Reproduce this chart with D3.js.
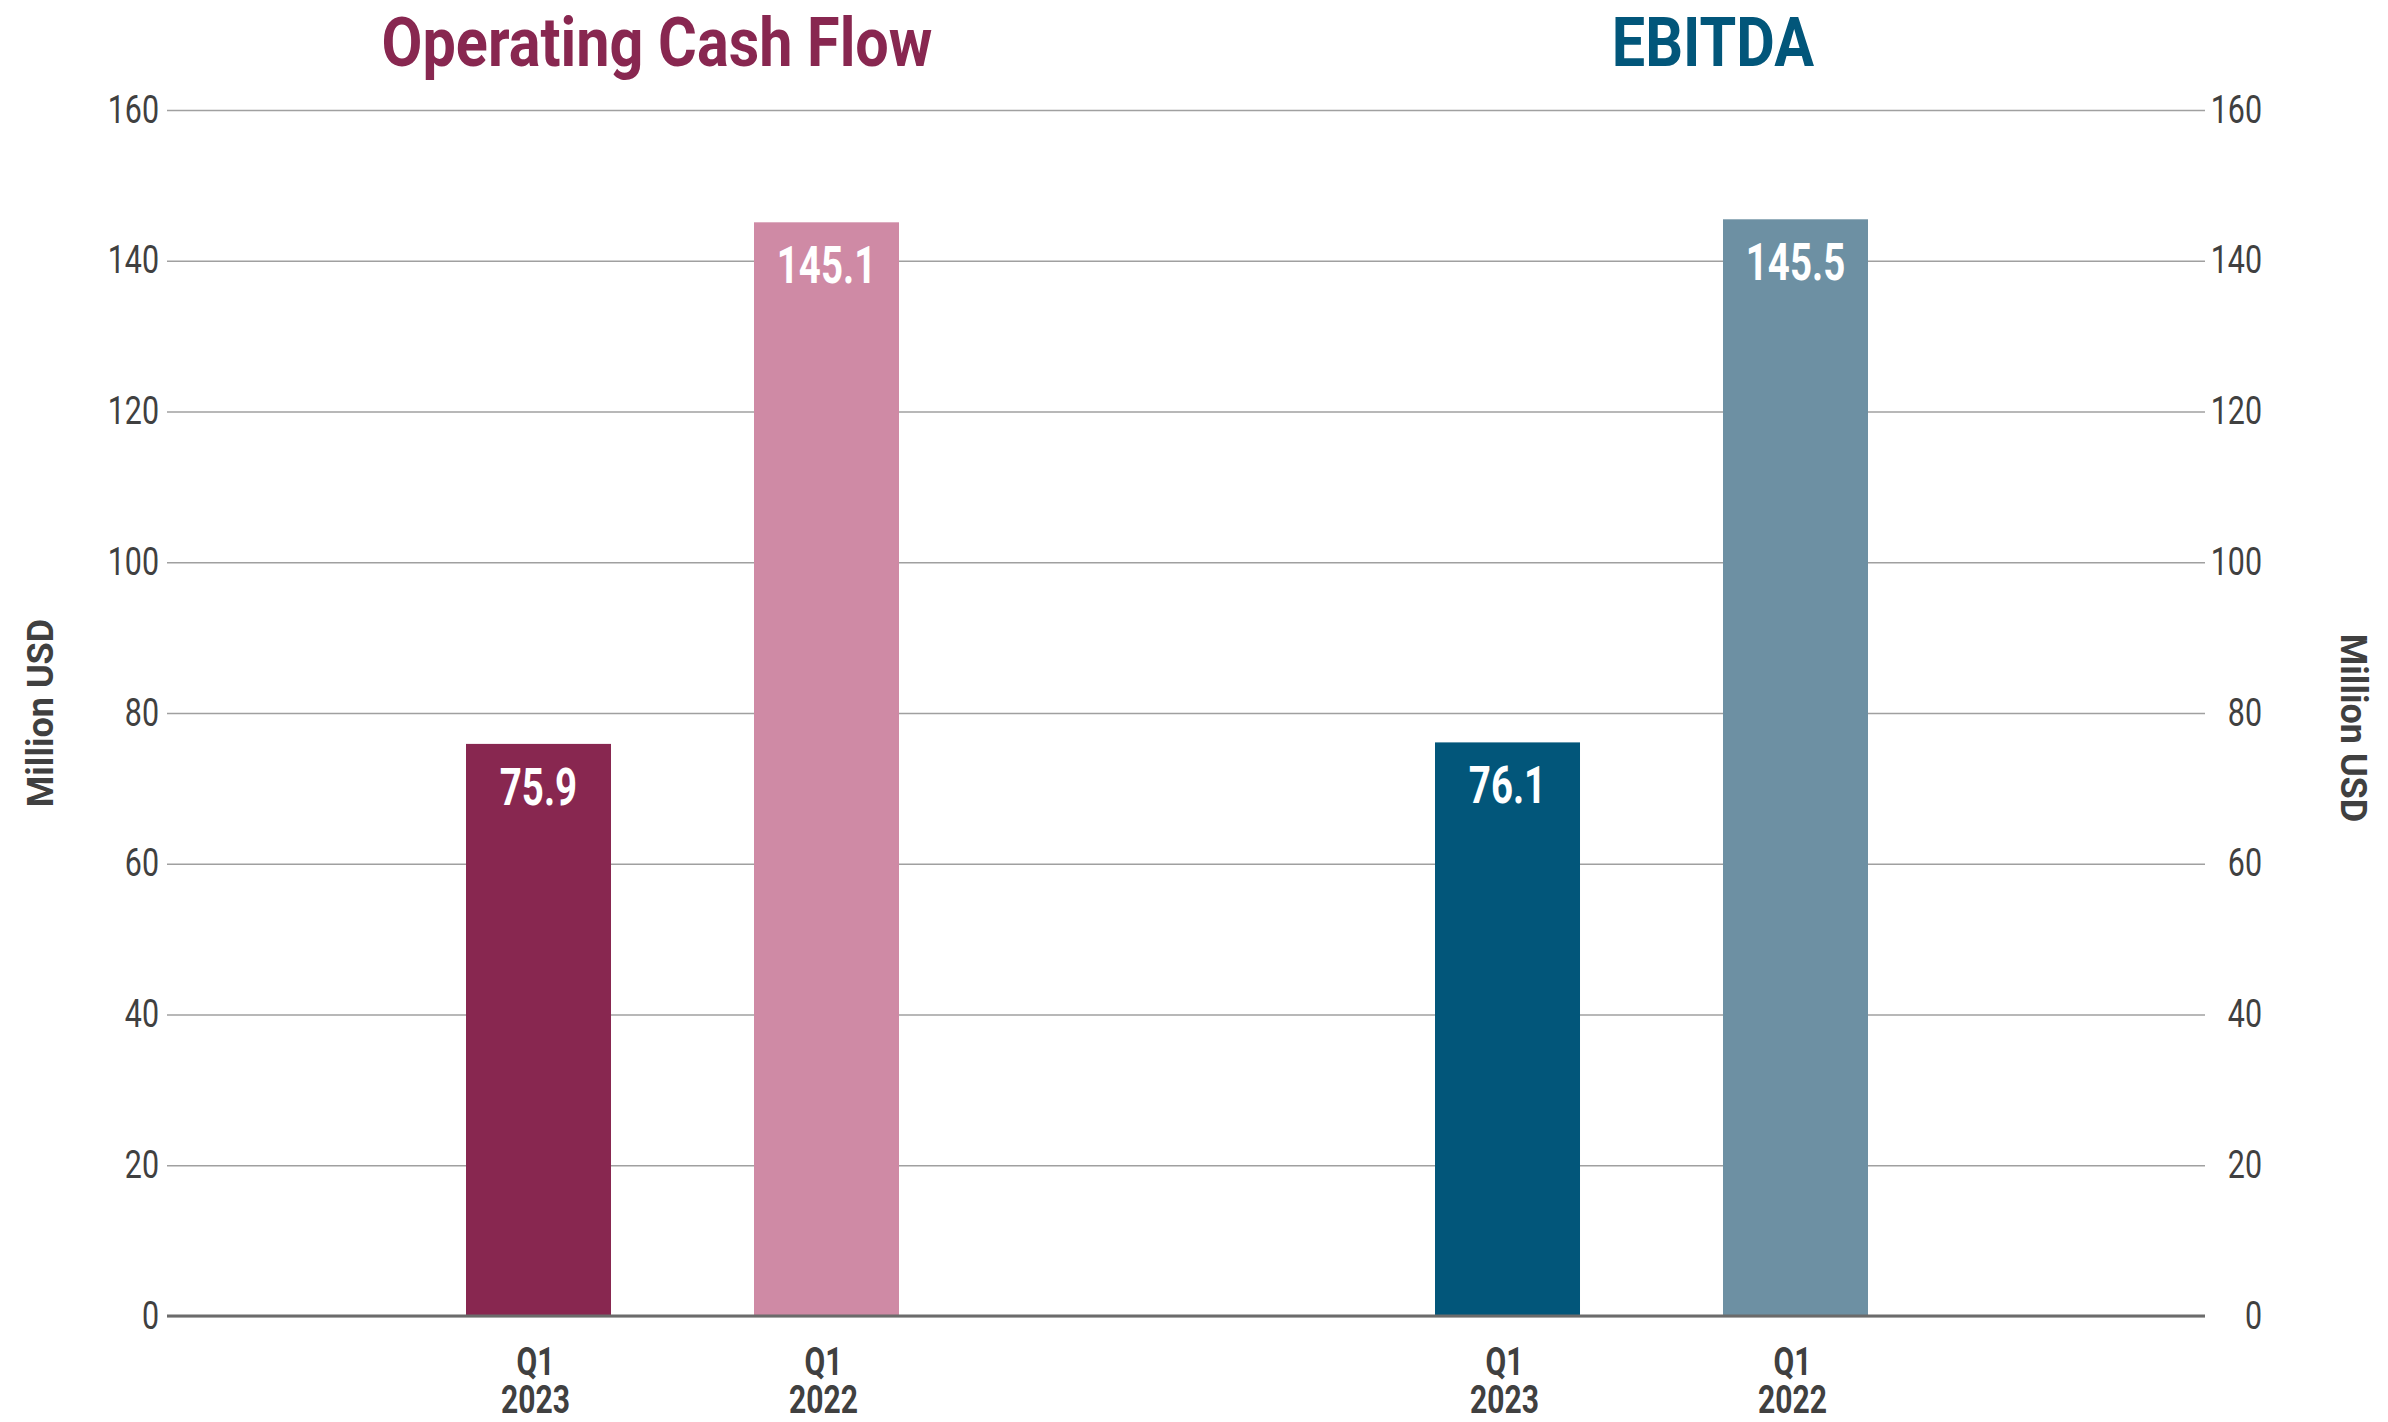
<!DOCTYPE html>
<html>
<head>
<meta charset="utf-8">
<script src="https://cdn.jsdelivr.net/npm/d3@7"></script>
<style>
  body { margin: 0; background: #fff; }
  text { font-family: Roboto, "Liberation Sans", sans-serif; }
</style>
</head>
<body>
<svg id="chart" width="2388" height="1422"></svg>
<script>
var categories = ['Q1 2023', 'Q1 2022'];
var panelTitles = ['Operating Cash Flow', 'EBITDA'];
var cashFlowValues = [75.9, 145.1];
var ebitdaValues = [76.1, 145.5];
var yTicks = [0, 20, 40, 60, 80, 100, 120, 140, 160];
var axisTitle = 'Million USD';

var svg = d3.select('#chart');
var left = 167, right = 2205, top_y = 110, bottom_y = 1316;

// narrow the text horizontally (the original uses a condensed face)
function squeeze(sel, sx) {
  sel.each(function() {
    var t = d3.select(this);
    t.attr('transform', (t.attr('transform') || '') + ' scale(' + sx + ',1)');
    if (t.attr('x') != null) t.attr('x', +t.attr('x') / sx);
    t.selectAll('tspan').each(function() {
      var s = d3.select(this);
      if (s.attr('x') != null) s.attr('x', +s.attr('x') / sx);
    });
  });
}

var y = d3.scaleLinear().domain([0, 160]).range([bottom_y, top_y]);

var panels = [
  {title: panelTitles[0], values: cashFlowValues, colors: ['#882750', '#cf8aa5'], titleColor: '#882750', range: [394, 971], titleX: 657},
  {title: panelTitles[1], values: ebitdaValues, colors: ['#02567a', '#6d90a3'], titleColor: '#02567a', range: [1363, 1940], titleX: 1713}
];

// left axis with gridlines
var gl = svg.append('g').attr('transform', 'translate(' + left + ',0)')
  .call(d3.axisLeft(y).tickValues(yTicks).tickSize(-(right - left)).tickPadding(8));
gl.select('.domain').remove();
gl.selectAll('.tick line').attr('stroke', '#a0a0a0').attr('stroke-width', 1.5);
gl.selectAll('.tick text').attr('fill', '#404040').style('font-size', '38px');
squeeze(gl.selectAll('.tick text'), 0.8);

// right axis labels
var gr = svg.append('g').attr('transform', 'translate(' + right + ',0)')
  .call(d3.axisRight(y).tickValues(yTicks).tickSize(0));
gr.select('.domain').remove();
gr.selectAll('.tick text').attr('fill', '#404040').style('font-size', '38px')
  .attr('text-anchor', 'end').attr('x', 57);
squeeze(gr.selectAll('.tick text'), 0.8);

panels.forEach(function(p) {
  var x = d3.scaleBand().domain(categories).range(p.range).paddingInner(0.4965).paddingOuter(0.25);
  var g = svg.append('g');

  g.selectAll('rect').data(p.values).enter().append('rect')
    .attr('x', (d, i) => x(categories[i]))
    .attr('y', d => y(d))
    .attr('width', x.bandwidth())
    .attr('height', d => y(0) - y(d))
    .attr('fill', (d, i) => p.colors[i]);

  var vals = g.selectAll('.val').data(p.values).enter().append('text')
    .attr('class', 'val')
    .attr('x', (d, i) => x(categories[i]) + x.bandwidth() / 2)
    .attr('y', d => y(d) + 61)
    .attr('text-anchor', 'middle')
    .attr('fill', '#fff')
    .style('font-size', '52px').style('font-weight', 'bold')
    .text(d => d.toFixed(1));
  squeeze(vals, 0.74);

  var lab = g.selectAll('.cat').data(categories).enter().append('text')
    .attr('class', 'cat')
    .attr('text-anchor', 'middle')
    .attr('fill', '#404040')
    .style('font-size', '39px').style('font-weight', 'bold');
  lab.append('tspan').attr('x', d => x(d) + x.bandwidth() / 2 - 3).attr('y', 1375).text(d => d.split(' ')[0]);
  lab.append('tspan').attr('x', d => x(d) + x.bandwidth() / 2 - 3).attr('y', 1413).text(d => d.split(' ')[1]);
  squeeze(lab, 0.77);

  var tt = svg.append('text')
    .attr('x', p.titleX).attr('y', 66)
    .attr('text-anchor', 'middle')
    .attr('fill', p.titleColor)
    .style('font-size', '69px').style('font-weight', 'bold')
    .text(p.title);
  squeeze(tt, 0.86);
});

// zero baseline
svg.append('line')
  .attr('x1', left).attr('x2', right)
  .attr('y1', y(0)).attr('y2', y(0))
  .attr('stroke', '#6b6b6b').attr('stroke-width', 3);

svg.append('text')
  .attr('transform', 'translate(53,713) rotate(-90)')
  .attr('text-anchor', 'middle')
  .attr('fill', '#404040')
  .style('font-size', '36px').style('font-weight', 'bold')
  .text(axisTitle);

svg.append('text')
  .attr('transform', 'translate(2341,728) rotate(90)')
  .attr('text-anchor', 'middle')
  .attr('fill', '#404040')
  .style('font-size', '36px').style('font-weight', 'bold')
  .text(axisTitle);
</script>
</body>
</html>
